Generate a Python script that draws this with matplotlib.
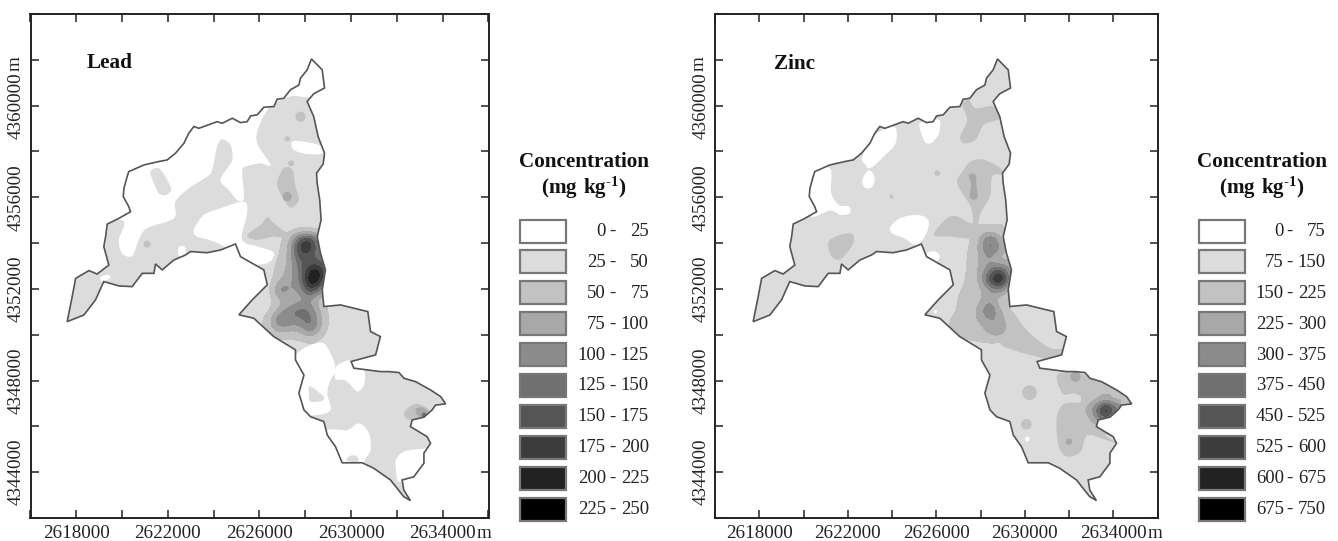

# lead and zinc concentration maps, side by side, with class legends
import numpy as np
import matplotlib
matplotlib.use('Agg')
import matplotlib.pyplot as plt
from matplotlib.colors import BoundaryNorm, ListedColormap
from matplotlib.patches import PathPatch, Rectangle, Ellipse
from matplotlib.path import Path

plt.rcParams['font.family'] = ['Liberation Serif', 'DejaVu Serif']
plt.rcParams['mathtext.fontset'] = 'custom'
plt.rcParams['mathtext.rm'] = 'Liberation Serif:bold'
plt.rcParams['mathtext.default'] = 'rm'

W, H = 1338, 541

# map coordinates below are km east / north of the frame corner (2616000, 4342000)
boundary = [(12.27, 20.04), (12.74, 19.56), (12.84, 18.77), (12.37, 18.52), (12.08, 18.18), (12.37, 17.52),
            (12.56, 16.65), (12.84, 15.92), (12.78, 15.45), (12.49, 15.05), (12.52, 14.61), (12.63, 13.88),
            (12.69, 13.01), (12.52, 12.28),
            (12.66, 11.57), (12.88, 10.83), (12.74, 9.96), (12.81, 9.23), (13.54, 9.30), (14.73, 9.01),
            (14.85, 8.14), (15.28, 7.92), (15.07, 7.12), (14.00, 6.83), (14.12, 6.54), (15.29, 6.39),
            (15.65, 6.39), (16.09, 6.35), (16.31, 6.10), (16.82, 5.95), (17.47, 5.59), (17.91, 5.30),
            (18.13, 4.98), (17.69, 4.93), (17.54, 4.72), (17.18, 4.40), (16.67, 4.28),
            (16.59, 3.99), (17.32, 3.55), (17.47, 3.26), (17.18, 2.83), (17.18, 2.39), (16.74, 1.80),
            (16.23, 1.66), (16.30, 1.22), (16.59, 0.76), (16.30, 0.93), (15.72, 1.66), (14.99, 2.17),
            (14.49, 2.41), (13.61, 2.41), (13.32, 3.11), (12.96, 3.62), (12.81, 4.21), (12.23, 4.42),
            (11.94, 4.72), (11.72, 5.45), (11.94, 6.24), (11.57, 6.90), (11.57, 7.34), (10.62, 7.92), (9.75, 8.72),
            (9.10, 8.87), (9.68, 9.52), (10.34, 10.18), (10.19, 10.83), (9.17, 11.41), (8.95, 11.96),
            (8.30, 11.70), (7.71, 11.58), (6.99, 11.63), (6.77, 11.48), (6.26, 11.26), (5.75, 10.83), (5.46, 11.09),
            (5.39, 10.68), (4.88, 10.68), (4.44, 10.10), (3.86, 10.13), (3.20, 10.32), (2.84, 9.52), (2.33, 8.86),
            (1.60, 8.57), (1.82, 9.66), (1.97, 10.46), (2.55, 10.80), (2.91, 10.65), (3.42, 11.04), (3.20, 11.85),
            (3.28, 12.28), (3.35, 12.83), (3.86, 13.08), (4.37, 13.37), (4.29, 13.59), (4.05, 14.03), (4.08, 14.39),
            (4.22, 14.90), (4.29, 15.12), (4.95, 15.41), (5.60, 15.56), (5.97, 15.63), (6.33, 15.92), (6.70, 16.36),
            (6.91, 16.79), (7.13, 17.09), (7.35, 17.01), (8.15, 17.30), (8.37, 17.23), (8.81, 17.45), (9.17, 17.26),
            (9.46, 17.30), (9.61, 17.55), (9.90, 17.60), (10.19, 17.93), (10.63, 17.96), (10.77, 18.28), (11.06, 18.32),
            (11.35, 18.69), (11.72, 18.90), (11.79, 19.20), (12.08, 19.56)]

# ---- lead ----
lead_low = [0, 25, 50, 75, 100, 125, 150, 175, 200, 225]
lead_high = [25, 50, 75, 100, 125, 150, 175, 200, 225, 250]

lead_white = [
    [(3.20, 13.01), (4.08, 12.94), (3.86, 12.14), (4.00, 11.55), (4.44, 11.44), (4.73, 12.14), (5.09, 12.65),
     (6.26, 13.08), (6.33, 13.81), (6.91, 14.39), (7.71, 14.90), (7.93, 15.19), (8.15, 16.21), (8.37, 16.53),
     (8.73, 16.29), (8.81, 15.63), (8.44, 15.05), (8.30, 14.68), (8.66, 14.32), (9.03, 13.88), (9.32, 13.96),
     (9.24, 15.12), (9.39, 15.34), (10.04, 15.48), (10.48, 15.41), (9.90, 16.36), (9.97, 17.09), (10.48, 17.96),
     (11.35, 18.40), (12.08, 18.37), (13.0, 18.38), (14, 18.4), (14, 22), (0, 22), (0, 13.01), (2, 13.01)],
    [(7.13, 12.57), (7.57, 13.23), (8.30, 13.52), (9.32, 13.81), (9.46, 13.30), (9.24, 12.14), (10.04, 11.82),
     (10.63, 11.58), (10.33, 11.12), (9.17, 11.12), (8.44, 11.85), (7.79, 12.14), (7.28, 12.28)],
    [(6.48, 11.82), (6.72, 11.85), (6.77, 11.55), (6.48, 11.44)],
    [(3.06, 10.53), (3.42, 10.61), (3.46, 10.46), (3.13, 10.32)],
    [(11.43, 16.43), (11.94, 16.43), (12.69, 16.24), (12.78, 15.92), (12.08, 15.89), (11.50, 16.07)],
    [(11.65, 7.19), (12.67, 7.66), (13.10, 7.19), (13.32, 6.46), (13.10, 6.03), (12.96, 5.44), (13.10, 4.72),
     (12.52, 4.50), (11.50, 4.57), (11.36, 5.52), (11.50, 6.32)],
    [(13.32, 6.54), (13.54, 6.75), (13.98, 6.87), (14.56, 6.46), (14.56, 5.81), (14.27, 5.52), (13.98, 5.81),
     (13.69, 6.03), (13.32, 6.06)],
    [(12.96, 3.84), (13.83, 3.84), (14.34, 4.13), (14.78, 3.70), (14.85, 2.97), (14.63, 2.61), (14.41, 2.24),
     (13.39, 2.24), (12.81, 3.26)],
    [(15.94, 2.39), (16.04, 2.68), (16.31, 2.90), (16.89, 3.00), (17.47, 2.90), (17.47, 1.66), (16.23, 1.59),
     (16.02, 1.66)],
]
# class 1 = 25-50, class 2 = 50-75 and so on
lead_regions = [
    (1, [(5.24, 15.12), (5.60, 15.27), (5.97, 14.76), (6.14, 14.32), (5.90, 14.10), (5.60, 14.17), (5.39, 14.61)]),
    (1, [(12.16, 5.74), (12.38, 5.66), (12.64, 5.44), (12.81, 5.30), (12.74, 5.12), (12.23, 5.08), (12.16, 5.37)]),
    (1, [(13.80, 2.50), (13.95, 2.71), (14.24, 2.71), (14.30, 2.46)]),
    (2, [(11.06, 15.27), (11.43, 15.19), (11.57, 14.46), (11.72, 13.88), (11.35, 13.56), (10.99, 14.03), (10.77, 14.61)]),
    (2, [(9.46, 12.35), (10.04, 12.79), (10.36, 13.13), (10.55, 12.94), (11.13, 12.50), (11.50, 12.50), (11.50, 12.14),
         (10.62, 12.28), (9.89, 12.14)]),
    (2, [(16.31, 4.57), (16.52, 4.83), (16.89, 4.98), (17.40, 4.72), (17.18, 4.40), (16.74, 4.28), (16.45, 4.31)]),
    (3, [(16.82, 4.75), (17.11, 4.83), (17.33, 4.64), (17.11, 4.40), (16.89, 4.50)]),
]
# east, north, radius, class
lead_spots = [(11.79, 17.52, 0.22, 2), (11.21, 16.55, 0.12, 2), (11.38, 15.48, 0.13, 2), (5.09, 11.95, 0.15, 2),
              (11.21, 14.03, 0.20, 3), (17.18, 4.50, 0.10, 5)]

lead_core_e = [10.04, 10.48, 10.91, 11.35, 11.79, 12.22, 12.66, 13.10]
lead_core_n = [12.57, 12.14, 11.70, 11.26, 10.83, 10.39, 9.95, 9.52, 9.08, 8.64, 8.21, 7.77]
lead_core = [[40, 40, 40, 42, 42, 40, 40, 40],
             [35, 40, 45, 75, 185, 205, 100, 60],
             [35, 38, 45, 90, 200, 190, 110, 60],
             [35, 40, 55, 85, 160, 140, 150, 90],
             [35, 42, 62, 90, 130, 215, 215, 100],
             [35, 40, 75, 95, 125, 250, 215, 70],
             [35, 45, 135, 95, 110, 190, 120, 60],
             [35, 40, 70, 75, 85, 90, 55, 40],
             [35, 48, 85, 120, 145, 125, 70, 40],
             [45, 70, 150, 125, 120, 145, 80, 40],
             [40, 70, 85, 75, 85, 135, 70, 40],
             [35, 40, 45, 45, 45, 48, 45, 35]]

# ---- zinc ----
zinc_low = [0, 75, 150, 225, 300, 375, 450, 525, 600, 675]
zinc_high = [75, 150, 225, 300, 375, 450, 525, 600, 675, 750]

zinc_white = [
    [(8.91, 17.27), (9.71, 17.38), (9.71, 16.80), (9.42, 16.39), (9.13, 16.39), (8.94, 16.80)],
    [(6.36, 15.75), (6.87, 16.66), (7.45, 17.02), (7.82, 17.02), (7.82, 16.36), (7.31, 15.78), (6.72, 15.27), (6.51, 15.42)],
    [(6.36, 14.69), (6.51, 15.05), (6.72, 15.17), (6.90, 14.84), (6.80, 14.47), (6.51, 14.40)],
    [(4.03, 15.05), (4.95, 15.27), (5.01, 14.18), (5.34, 13.67), (5.78, 13.60), (5.82, 13.31), (5.41, 13.23), (4.98, 13.42),
     (4.03, 13.23)],
    [(7.60, 12.72), (8.03, 13.09), (8.76, 13.23), (9.23, 13.02), (9.20, 12.51), (8.76, 11.92), (8.18, 12.22), (7.67, 12.43)],
    [(9.20, 11.56), (9.56, 11.63), (9.75, 11.41), (9.56, 11.12), (9.34, 11.12)],
]
zinc_regions = [
    (2, [(10.73, 18.04), (11.02, 18.26), (11.31, 17.89), (12.11, 17.97), (12.40, 17.46), (11.67, 17.16), (11.31, 16.51),
         (10.80, 16.36), (10.65, 16.66), (10.95, 17.38)]),
    (2, [(10.51, 14.62), (10.80, 15.20), (11.09, 15.56), (11.67, 15.64), (12.40, 15.27), (12.47, 15.02), (12.04, 14.91),
         (11.94, 14.03), (11.53, 13.31), (11.45, 12.58), (11.80, 12.20), (11.00, 12.20), (10.21, 12.29), (9.49, 12.36),
         (10.07, 13.09), (10.51, 13.16), (11.16, 12.87), (11.09, 13.60)]),
    (3, [(11.02, 14.98), (11.31, 14.98), (11.35, 14.47), (11.41, 14.03), (11.24, 13.89), (11.06, 14.03), (11.12, 14.54)]),
    (2, [(4.90, 12.07), (5.41, 12.36), (5.92, 12.40), (5.97, 12.00), (5.56, 11.41), (5.27, 11.27), (4.98, 11.49)]),
    (2, [(14.95, 6.32), (16.48, 6.17), (17.65, 5.74), (18.37, 4.93), (17.79, 4.72), (16.77, 4.93), (16.19, 4.43), (16.63, 3.84),
         (17.50, 3.26), (16.92, 3.44), (16.19, 3.62), (15.90, 2.90), (15.32, 2.68), (14.95, 3.12), (14.85, 4.35), (15.17, 4.98),
         (15.83, 5.04), (15.90, 5.30), (15.61, 5.44), (15.10, 5.44)]),
    (2, [(12.76, 9.08), (13.42, 8.35), (13.86, 7.91), (14.58, 7.41), (15.31, 7.33), (15.31, 6.75), (14.00, 7.04), (12.98, 7.33),
         (12.40, 7.70)]),
]
zinc_spots = [(9.64, 15.05, 0.12, 2), (7.64, 14.03, 0.09, 2), (13.67, 5.47, 0.32, 2), (13.53, 4.09, 0.23, 2),
              (13.57, 3.45, 0.10, 0), (15.39, 3.33, 0.14, 3), (15.68, 6.17, 0.22, 3), (9.56, 9.01, 0.07, 0),
              (11.45, 9.66, 0.10, 1)]

zinc_core_e = [9.78, 10.22, 10.65, 11.09, 11.53, 11.96, 12.40, 12.84, 13.27]
zinc_core_n = [12.57, 12.14, 11.70, 11.26, 10.83, 10.39, 9.95, 9.52, 9.08, 8.64, 8.21, 7.77, 7.33]
zinc_core = [[100, 100, 110, 155, 155, 155, 150, 140, 100],
             [100, 100, 110, 140, 240, 430, 270, 100, 100],
             [100, 100, 110, 160, 240, 450, 300, 200, 100],
             [100, 100, 110, 170, 230, 300, 130, 230, 100],
             [100, 100, 120, 170, 240, 350, 500, 300, 100],
             [100, 100, 130, 170, 235, 560, 750, 350, 100],
             [100, 100, 150, 180, 200, 290, 380, 200, 100],
             [100, 120, 170, 170, 200, 300, 140, 150, 100],
             [100, 130, 160, 175, 270, 420, 240, 150, 100],
             [100, 160, 175, 170, 260, 300, 280, 170, 100],
             [100, 155, 230, 170, 180, 280, 350, 160, 100],
             [100, 110, 140, 155, 160, 165, 155, 130, 100],
             [100, 100, 100, 120, 120, 120, 120, 110, 100]]
zinc_hot_e = [16.12, 16.56, 16.99, 17.43]
zinc_hot_n = [5.15, 4.72, 4.28, 3.84]
zinc_hot = [[170, 190, 230, 180],
            [220, 400, 750, 420],
            [180, 280, 450, 200],
            [160, 170, 170, 160]]

greys = ['#ffffff', '#dcdcdc', '#c2c2c2', '#a8a8a8', '#8c8c8c', '#707070', '#555555', '#3c3c3c', '#222222', '#000000']
x_ticks = np.arange(2616000, 2636001, 2000)
y_ticks = np.arange(4342000, 4364001, 2000)


def px_axes(x0, y0, x1, y1):
    return fig.add_axes([x0 / W, 1 - y1 / H, (x1 - x0) / W, (y1 - y0) / H])


def smooth_patch(points, color):
    # closed curve through the digitised vertices
    pts = np.array(points)
    verts, codes = [pts[0]], [Path.MOVETO]
    n = len(pts)
    for i in range(n):
        p0, p1, p2, p3 = pts[i - 1], pts[i], pts[(i + 1) % n], pts[(i + 2) % n]
        verts += [p1 + (p2 - p0) / 6, p2 - (p3 - p1) / 6, p2]
        codes += [Path.CURVE4] * 3
    return PathPatch(Path(verts, codes), facecolor=color, edgecolor='none', linewidth=0)


def draw_map(ax, white, regions, spots, fields, levels):
    outline = PathPatch(Path(boundary + [boundary[0]], closed=True), facecolor=greys[1], edgecolor='none')
    ax.add_patch(outline)

    for poly in white:
        p = ax.add_patch(smooth_patch(poly, greys[0]))
        p.set_clip_path(outline)
    for cls, poly in regions:
        p = ax.add_patch(smooth_patch(poly, greys[cls]))
        p.set_clip_path(outline)
    for e, n, r, cls in spots:
        p = ax.add_patch(Ellipse((e, n), 2 * r, 2 * r, facecolor=greys[cls], edgecolor='none'))
        p.set_clip_path(outline)

    # the peaks: bands stay smooth because the values are resampled before the colour lookup
    cmap = ListedColormap(greys[2:]).with_extremes(under=(0, 0, 0, 0), over=greys[-1])
    norm = BoundaryNorm(levels, cmap.N)
    for fe, fn, vals in fields:
        de = (fe[-1] - fe[0]) / (len(fe) - 1) / 2
        dn = (fn[0] - fn[-1]) / (len(fn) - 1) / 2
        im = ax.imshow(vals, extent=[fe[0] - de, fe[-1] + de, fn[-1] - dn, fn[0] + dn], origin='upper', aspect='auto',
                       cmap=cmap, norm=norm, interpolation='bicubic', interpolation_stage='data', zorder=2)
        im.set_clip_path(outline)

    ax.add_patch(PathPatch(Path(boundary + [boundary[0]], closed=True), facecolor='none', edgecolor='#555555',
                           linewidth=1.2, zorder=3))

    ax.set_xlim(0, 20)
    ax.set_ylim(0, 22)
    ax.axis('off')
    ax.patch.set_alpha(0)


def draw_frame(ax):
    ax.set_xlim(x_ticks[0], x_ticks[-1])
    ax.set_ylim(y_ticks[0], y_ticks[-1])
    ax.patch.set_alpha(0)
    ax.set_xticks(x_ticks)
    ax.set_yticks(y_ticks)
    ax.set_xticklabels([str(t) if (t - 2618000) % 4000 == 0 and 2618000 <= t <= 2634000 else '' for t in x_ticks])
    ax.set_yticklabels([str(t) if (t - 4344000) % 4000 == 0 and 4344000 <= t <= 4360000 else '' for t in y_ticks],
                       rotation=90, va='center')
    ax.tick_params(direction='in', length=6, width=1.1, color='#222222', labelsize=13.7, labelcolor='#222222',
                   top=True, right=True, pad=5)
    ax.tick_params(axis='y', pad=4)
    for s in ax.spines.values():
        s.set_linewidth(1.4)
        s.set_color('#222222')


def draw_legend(box_x, dash_x, low_x, high_x, low, high, title_x):
    over.text(title_x, 162, 'Concentration', ha='center', va='center', fontsize=15.2, fontweight='bold', color='#111111')
    over.text(title_x, 188, r'$\mathrm{(mg\ kg}^{\text{-1}}\mathrm{)}$', ha='center', va='center', fontsize=15.2, color='#111111')
    for i, (lo, hi) in enumerate(zip(low, high)):
        top = 219.5 + 30.9 * i
        over.add_patch(Rectangle((box_x, top), 46, 23, facecolor=greys[i], edgecolor='#777777', linewidth=1.6))
        over.text(low_x, top + 12, str(lo), ha='right', va='center', fontsize=13.5, color='#222222')
        over.text(dash_x, top + 12, '-', ha='center', va='center', fontsize=13.5, color='#222222')
        over.text(high_x, top + 12, str(hi), ha='right', va='center', fontsize=13.5, color='#222222')


fig = plt.figure(figsize=(W / 100, H / 100), dpi=100, facecolor='white')

lead_map = px_axes(30.5, 14, 488.5, 518)
draw_map(lead_map, lead_white, lead_regions, lead_spots, [(lead_core_e, lead_core_n, lead_core)],
         [50 + 25 * i for i in range(9)])
zinc_map = px_axes(716.5, 14, 1174.5, 518)
draw_map(zinc_map, zinc_white, zinc_regions, zinc_spots,
         [(zinc_core_e, zinc_core_n, zinc_core), (zinc_hot_e, zinc_hot_n, zinc_hot)],
         [150 + 75 * i for i in range(9)])

draw_frame(px_axes(30.5, 14, 488.5, 518))
draw_frame(px_axes(715, 14, 1157.7, 518))

# overlay in figure pixels for the legends and the unit letters
over = fig.add_axes([0, 0, 1, 1])
over.set_xlim(0, W)
over.set_ylim(H, 0)
over.axis('off')
over.patch.set_alpha(0)

over.text(86.5, 63, 'Lead', ha='left', va='center', fontsize=15.3, fontweight='bold', color='#111111')
over.text(774, 64, 'Zinc', ha='left', va='center', fontsize=15.3, fontweight='bold', color='#111111')
for x, y in [(477, 533), (1148, 533)]:
    over.text(x, y, 'm', ha='left', va='center', fontsize=13.7, color='#222222')
for x in [15, 699]:
    over.text(x, 64, 'm', ha='center', va='center', rotation=90, fontsize=13.7, color='#222222')

draw_legend(519.5, 612, 606, 649, lead_low, lead_high, 583.5)
draw_legend(1198.5, 1289, 1284, 1326, zinc_low, zinc_high, 1261.5)

fig.savefig('out.png', dpi=100)
